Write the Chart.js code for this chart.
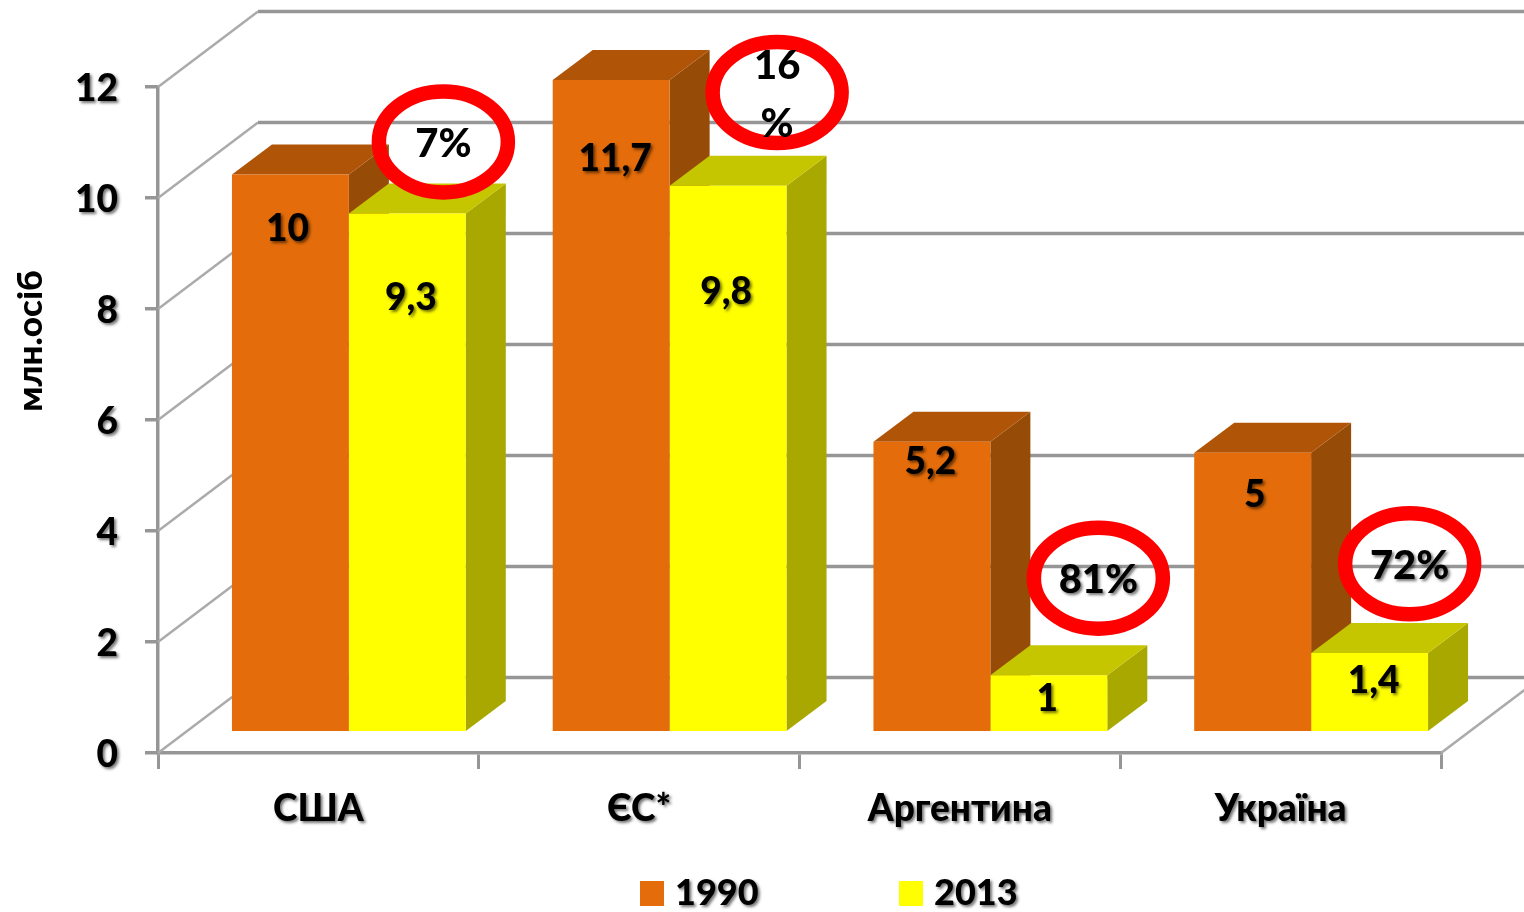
<!DOCTYPE html>
<html>
<head>
<meta charset="utf-8">
<style>
  html, body { margin: 0; padding: 0; background: #fff; }
  canvas { display: block; }
</style>
<script src="https://cdn.jsdelivr.net/npm/chart.js@4"></script>
</head>
<body>
<canvas id="chart" width="1524" height="912"></canvas>
<script>
const categories = ["США", "ЄС*", "Аргентина", "Україна"];
const values1990 = [10, 11.7, 5.2, 5];
const values2013 = [9.3, 9.8, 1, 1.4];
const valueLabels1990 = ["10", "11,7", "5,2", "5"];
const valueLabels2013 = ["9,3", "9,8", "1", "1,4"];
const changeLabels = ["7%", "16\n%", "81%", "72%"];
const seriesNames = ["1990", "2013"];

const FONT = '"Lato", "Open Sans", sans-serif';
const BOLD = "900 37px " + FONT;
const GRID = "#969696";

// the bars stand a little way into the floor, and have their own depth
const FLOOR_SHIFT = { x: 30.5, y: -22 };
const WALL_DEPTH = { x: 100, y: -75.5 };
const BAR_DEPTH = { x: 40, y: -30 };

const faceColors = [
  { top: "#B05508", side: "#964B06" },
  { top: "#C6C600", side: "#A8A800" },
];
// where each value label sits: [x from bar centre, y from bar top]
const labelNudge = [
  [[-3, 55], [4, 79], [-1.5, 20], [2, 42]],
  [[3.5, 85], [-2, 106], [-1.5, 24], [4, 28]],
];
// red rings: x from category centre, height on the value axis
const ringPlace = [[125, 11.01], [138, 11.9], [138.5, 3.15], [129, 3.41]];

function shadowOn(ctx) {
  ctx.shadowColor = "rgba(0,0,0,0.55)";
  ctx.shadowBlur = 3;
  ctx.shadowOffsetX = 2;
  ctx.shadowOffsetY = 2;
}

function polygon(ctx, points, color) {
  ctx.fillStyle = color;
  ctx.beginPath();
  points.forEach((p, i) => (i ? ctx.lineTo(p[0], p[1]) : ctx.moveTo(p[0], p[1])));
  ctx.closePath();
  ctx.fill();
}

function drawWalls(chart) {
  const ctx = chart.ctx;
  const left = chart.scales.x.left;
  const right = chart.scales.x.right;
  const yScale = chart.scales.y;
  ctx.save();
  yScale.ticks.forEach((tick) => {
    const y = yScale.getPixelForValue(tick.value);
    ctx.strokeStyle = "#ababab";
    ctx.lineWidth = 2.5;
    ctx.beginPath();
    ctx.moveTo(left, y);
    ctx.lineTo(left + WALL_DEPTH.x, y + WALL_DEPTH.y);
    ctx.stroke();
    ctx.strokeStyle = GRID;
    ctx.lineWidth = 3.5;
    ctx.beginPath();
    ctx.moveTo(left + WALL_DEPTH.x, y + WALL_DEPTH.y);
    ctx.lineTo(chart.width + 10, y + WALL_DEPTH.y);
    ctx.stroke();
  });
  // right edge of the floor
  const y0 = yScale.getPixelForValue(0);
  ctx.strokeStyle = "#ababab";
  ctx.lineWidth = 2.5;
  ctx.beginPath();
  ctx.moveTo(right, y0);
  ctx.lineTo(right + WALL_DEPTH.x, y0 + WALL_DEPTH.y);
  ctx.stroke();
  ctx.restore();
}

function drawBarFaces(chart) {
  const ctx = chart.ctx;
  ctx.save();
  ctx.translate(FLOOR_SHIFT.x, FLOOR_SHIFT.y);
  chart.data.datasets.forEach((ds, d) => {
    chart.getDatasetMeta(d).data.forEach((bar) => {
      const l = bar.x - bar.width / 2;
      const r = bar.x + bar.width / 2;
      const dx = BAR_DEPTH.x;
      const dy = BAR_DEPTH.y;
      polygon(ctx, [[r, bar.y], [r + dx, bar.y + dy], [r + dx, bar.base + dy], [r, bar.base]], faceColors[d].side);
      polygon(ctx, [[l, bar.y], [l + dx, bar.y + dy], [r + dx, bar.y + dy], [r, bar.y]], faceColors[d].top);
    });
  });
  ctx.restore();
}

function drawValueLabels(chart) {
  const ctx = chart.ctx;
  const texts = [valueLabels1990, valueLabels2013];
  ctx.save();
  ctx.font = BOLD;
  ctx.fillStyle = "#000";
  ctx.textAlign = "center";
  ctx.textBaseline = "middle";
  shadowOn(ctx);
  chart.data.datasets.forEach((ds, d) => {
    chart.getDatasetMeta(d).data.forEach((bar, i) => {
      const n = labelNudge[d][i];
      ctx.fillText(texts[d][i], bar.x + FLOOR_SHIFT.x + n[0], bar.y + FLOOR_SHIFT.y + n[1]);
    });
  });
  ctx.restore();
}

function drawRings(chart) {
  const ctx = chart.ctx;
  ctx.save();
  ctx.font = "900 40px " + FONT;
  ctx.textAlign = "center";
  ctx.textBaseline = "middle";
  changeLabels.forEach((label, i) => {
    const cx = chart.scales.x.getPixelForValue(i) + ringPlace[i][0];
    const cy = chart.scales.y.getPixelForValue(ringPlace[i][1]);
    ctx.strokeStyle = "#FF0000";
    ctx.lineWidth = 14.5;
    ctx.beginPath();
    ctx.ellipse(cx, cy, 64.5, 50.5, 0, 0, Math.PI * 2);
    ctx.stroke();
    ctx.fillStyle = "#000";
    const lines = label.split("\n");
    ctx.save();
    if (i > 1) shadowOn(ctx);
    if (lines.length == 2) {
      ctx.fillText(lines[0], cx, cy - 26);
      ctx.fillText(lines[1], cx, cy + 32);
    } else {
      ctx.fillText(lines[0], cx, cy + 2);
    }
    ctx.restore();
  });
  ctx.restore();
}

function drawLegend(chart) {
  const ctx = chart.ctx;
  const boxLeft = [640, 899];
  ctx.save();
  ctx.font = "900 36px " + FONT;
  ctx.textBaseline = "middle";
  chart.data.datasets.forEach((ds, d) => {
    ctx.fillStyle = ds.backgroundColor;
    ctx.fillRect(boxLeft[d], 881, 24, 25);
    ctx.save();
    ctx.fillStyle = "#000";
    shadowOn(ctx);
    ctx.fillText(ds.label, boxLeft[d] + 35, 893);
    ctx.restore();
  });
  ctx.restore();
}

function labelsWithShadow(scale) {
  const drawLabels = scale.drawLabels;
  scale.drawLabels = function (area) {
    scale.ctx.save();
    shadowOn(scale.ctx);
    drawLabels.call(scale, area);
    scale.ctx.restore();
  };
}

// the axis title sits above the middle of the axis in the original
function liftTitle(scale, dy) {
  const drawTitle = scale.drawTitle;
  scale.drawTitle = function (area) {
    scale.ctx.save();
    scale.ctx.translate(0, dy);
    drawTitle.call(scale, area);
    scale.ctx.restore();
  };
}

const pseudo3d = {
  id: "pseudo3d",
  beforeDraw(chart) {
    if (chart.$patched) return;
    chart.$patched = true;
    labelsWithShadow(chart.scales.x);
    labelsWithShadow(chart.scales.y);
    liftTitle(chart.scales.y, -79);
  },
  beforeDatasetsDraw(chart) {
    drawWalls(chart);
    drawBarFaces(chart);
  },
  beforeDatasetDraw(chart) {
    chart.ctx.save();
    chart.ctx.translate(FLOOR_SHIFT.x, FLOOR_SHIFT.y);
  },
  afterDatasetDraw(chart) {
    chart.ctx.restore();
  },
  afterDatasetsDraw(chart) {
    drawValueLabels(chart);
    drawRings(chart);
    drawLegend(chart);
  },
};

new Chart(document.getElementById("chart"), {
  type: "bar",
  data: {
    labels: categories,
    datasets: [
      { label: seriesNames[0], data: values1990, backgroundColor: "#E46C0A", clip: false, yAxisID: "yBars" },
      { label: seriesNames[1], data: values2013, backgroundColor: "#FFFF00", clip: false, yAxisID: "yBars" },
    ],
  },
  options: {
    responsive: false,
    animation: false,
    events: [],
    categoryPercentage: 0.729,
    barPercentage: 1,
    layout: { padding: { top: 87, right: 83, bottom: 0, left: 0 } },
    plugins: {
      legend: { display: false },
      tooltip: { enabled: false },
    },
    scales: {
      x: {
        afterFit: (scale) => { scale.height = 159; },
        grid: { color: GRID, lineWidth: 3, tickLength: 16, drawOnChartArea: false },
        border: { color: GRID, width: 3.5 },
        ticks: {
          color: "#000",
          font: { family: FONT, size: 37, weight: 900 },
          padding: 18,
          maxRotation: 0,
          autoSkip: false,
        },
      },
      y: {
        min: 0,
        max: 12,
        afterFit: (scale) => { scale.width = 158; },
        grid: { color: GRID, lineWidth: 3.5, tickLength: 13, drawOnChartArea: false },
        border: { color: GRID, width: 3.5 },
        ticks: {
          stepSize: 2,
          color: "#000",
          font: { family: FONT, size: 37, weight: 900 },
          padding: 27,
          labelOffset: 2,
        },
        title: {
          display: true,
          text: "млн.осіб",
          color: "#000",
          font: { family: FONT, size: 35, weight: 900 },
          padding: { top: 10, bottom: 0 },
        },
      },
      // bars stand nearer than the back wall, so a unit is a touch taller on them
      yBars: { display: false, min: 0, max: 11.968 },
    },
  },
  plugins: [pseudo3d],
});
</script>
</body>
</html>
